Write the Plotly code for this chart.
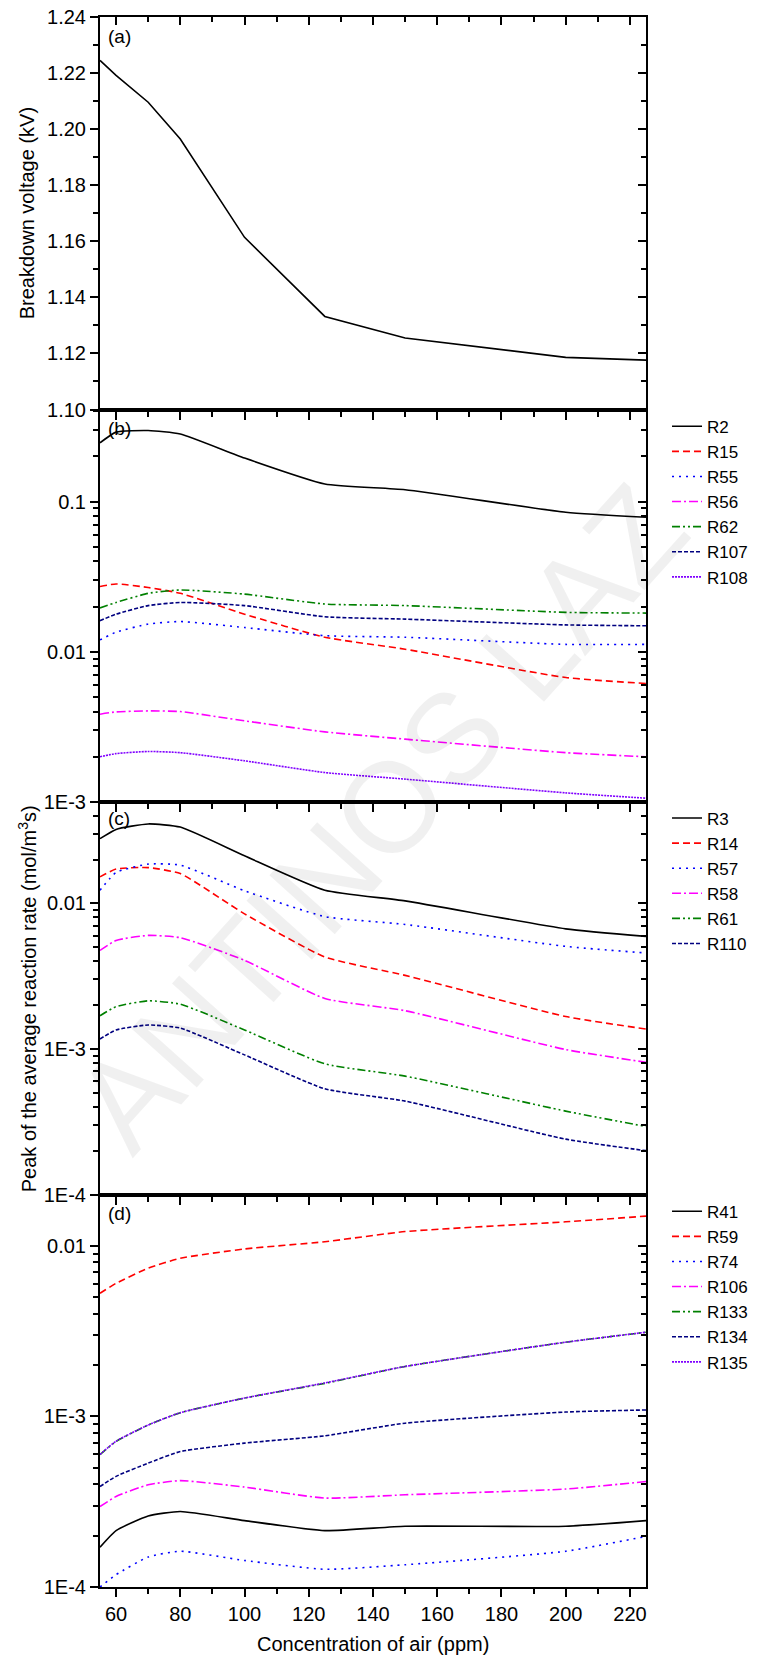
import plotly.graph_objects as go

# ---------------- data ----------------
x_air = [55, 60, 70, 80, 100, 125, 150, 200, 225]

# (a) breakdown voltage (kV)
breakdown_kv = [1.2245, 1.2192, 1.2096, 1.1965, 1.1614, 1.1332, 1.1255, 1.1186, 1.1176]

# (b)
R2 = [0.246, 0.290, 0.297, 0.282, 0.195, 0.131, 0.120, 0.0849, 0.0786]
R15 = [0.0272, 0.0283, 0.0268, 0.0245, 0.0178, 0.0125, 0.0104, 0.00674, 0.00615]
R55 = [0.0120, 0.0135, 0.0153, 0.0159, 0.0145, 0.0128, 0.0125, 0.0112, 0.0112]
R56 = [0.00384, 0.00398, 0.00404, 0.00400, 0.00347, 0.00293, 0.00262, 0.00213, 0.00200]
R62 = [0.0196, 0.0213, 0.0245, 0.0258, 0.0242, 0.0208, 0.0203, 0.0183, 0.0181]
R107 = [0.0161, 0.0178, 0.0203, 0.0213, 0.0203, 0.0171, 0.0165, 0.0151, 0.0149]
R108 = [0.00200, 0.00210, 0.00217, 0.00213, 0.00188, 0.00157, 0.00142, 0.00115, 0.00106]

# (c)
R3 = [0.0278, 0.0322, 0.0351, 0.0334, 0.0212, 0.0123, 0.0104, 0.00668, 0.00593]
R14 = [0.0152, 0.0172, 0.0176, 0.0160, 0.00847, 0.00428, 0.00320, 0.00167, 0.00137]
R57 = [0.0123, 0.0163, 0.0186, 0.0183, 0.0122, 0.00811, 0.00716, 0.00506, 0.00456]
R58 = [0.00475, 0.00556, 0.00602, 0.00581, 0.00406, 0.00222, 0.00183, 0.00099, 0.00081]
R61 = [0.00169, 0.00195, 0.00214, 0.00203, 0.00135, 0.00079, 0.00065, 0.000374, 0.000293]
R110 = [0.00117, 0.00135, 0.00146, 0.00139, 0.00091, 0.000532, 0.000438, 0.00024, 0.00020]

# (d)
R41 = [0.000171, 0.000214, 0.000261, 0.000277, 0.000245, 0.000214, 0.000227, 0.000227, 0.000245]
R59 = [0.00526, 0.00602, 0.00738, 0.00844, 0.00957, 0.01055, 0.0121, 0.0138, 0.0149]
R74 = [0.000100, 0.000118, 0.000150, 0.000162, 0.000143, 0.000127, 0.000135, 0.000162, 0.000198]
R106 = [0.000296, 0.000339, 0.000397, 0.000420, 0.000385, 0.000332, 0.000347, 0.000375, 0.000415]
R133 = [0.000596, 0.000713, 0.000890, 0.00105, 0.00128, 0.00156, 0.00196, 0.00272, 0.00311]
R134 = [0.000388, 0.000445, 0.000532, 0.000622, 0.000697, 0.000769, 0.000912, 0.00106, 0.00109]
R135 = [0.000598, 0.000715, 0.000890, 0.00105, 0.00128, 0.00157, 0.00196, 0.00272, 0.00311]

panel_b = [("R2", R2), ("R15", R15), ("R55", R55), ("R56", R56), ("R62", R62), ("R107", R107), ("R108", R108)]
panel_c = [("R3", R3), ("R14", R14), ("R57", R57), ("R58", R58), ("R61", R61), ("R110", R110)]
panel_d = [("R41", R41), ("R59", R59), ("R74", R74), ("R106", R106), ("R133", R133), ("R134", R134), ("R135", R135)]

x_ticks = [60, 80, 100, 120, 140, 160, 180, 200, 220]
kv_ticks = [1.10, 1.12, 1.14, 1.16, 1.18, 1.20, 1.22, 1.24]
b_tickvals = [0.001, 0.01, 0.1]
b_ticktext = ["1E-3", "0.01", "0.1"]
cd_tickvals = [0.0001, 0.001, 0.01]
cd_ticktext = ["1E-4", "1E-3", "0.01"]

# ---------------- styles ----------------
FONT = "Liberation Sans, Arial, sans-serif"
styles = [
    dict(color="#000000", dash="solid"),
    dict(color="#ff0000", dash="7px,4px"),
    dict(color="#0000ff", dash="2px,5px"),
    dict(color="#ff00ff", dash="9px,3px,2px,3px"),
    dict(color="#008000", dash="8px,3px,2px,3px,2px,3px"),
    dict(color="#000080", dash="4px,2px"),
    dict(color="#8000ff", dash="2px,1px"),
]
LW = 1.6

fig = go.Figure()

# panel (a)
fig.add_trace(go.Scatter(x=x_air, y=breakdown_kv, mode="lines",
                         line=dict(color="black", width=LW), showlegend=False,
                         xaxis="x", yaxis="y"))

for series, xa, ya, leg in [(panel_b, "x2", "y2", "legend"),
                            (panel_c, "x3", "y3", "legend2"),
                            (panel_d, "x4", "y4", "legend3")]:
    for i, (name, vals) in enumerate(series):
        st = styles[i]
        fig.add_trace(go.Scatter(x=x_air, y=vals, mode="lines", name=name,
                                 line=dict(color=st["color"], dash=st["dash"], width=LW,
                                           shape="spline", smoothing=0.5),
                                 xaxis=xa, yaxis=ya, legend=leg))

# dummy traces so the mirror (inside-tick) axes get drawn
for i in range(1, 5):
    xs = "" if i == 1 else str(i)
    fig.add_trace(go.Scatter(x=[None], y=[None], xaxis="x%d" % (i + 4), yaxis="y" + xs,
                             showlegend=False, hoverinfo="skip"))
    fig.add_trace(go.Scatter(x=[None], y=[None], xaxis="x" + xs, yaxis="y%d" % (i + 4),
                             showlegend=False, hoverinfo="skip"))

domains = [[0.75, 1.0], [0.5, 0.75], [0.25, 0.5], [0.0, 0.25]]
y_ranges = [[1.10, 1.24], [-3, -0.387], [-4, -1.304], [-4, -1.70]]
log_minor = [k * 10 ** e for e in range(-4, 0) for k in range(2, 10)]

tickfont = dict(family=FONT, size=20, color="black")
layout = {}
for i in range(1, 5):
    xs = "" if i == 1 else str(i)
    common_x = dict(range=[55, 225], tickmode="array", tickvals=x_ticks,
                    ticklen=8, tickwidth=1.5, tickcolor="black",
                    minor=dict(tickmode="array", tickvals=[70, 90, 110, 130, 150, 170, 190, 210],
                               ticklen=5, tickwidth=1.5, tickcolor="black"),
                    showgrid=False, zeroline=False, tickfont=tickfont)
    bx = dict(common_x, domain=[0, 1], anchor="y" + xs, side="bottom", ticks="outside",
              showline=True, linecolor="black", linewidth=2, mirror=True,
              showticklabels=(i == 4))
    bx["minor"] = dict(bx["minor"], ticks="outside")
    tx = dict(common_x, overlaying="x" + xs, anchor="y" + xs, side="top", ticks="inside",
              showline=False, showticklabels=False)
    tx["minor"] = dict(tx["minor"], ticks="inside")
    layout["xaxis" + xs] = bx
    layout["xaxis%d" % (i + 4)] = tx

    if i == 1:
        common_y = dict(type="linear", range=y_ranges[0], tickmode="array", tickvals=kv_ticks,
                        ticktext=["%.2f" % v for v in kv_ticks],
                        minor=dict(tickmode="array", tickvals=[1.11, 1.13, 1.15, 1.17, 1.19, 1.21, 1.23],
                                   ticklen=5, tickwidth=1.5, tickcolor="black"))
    else:
        tv, tt = (b_tickvals, b_ticktext) if i == 2 else (cd_tickvals, cd_ticktext)
        common_y = dict(type="log", range=y_ranges[i - 1], tickmode="array", tickvals=tv, ticktext=tt,
                        minor=dict(tickmode="array", tickvals=log_minor,
                                   ticklen=5, tickwidth=1.5, tickcolor="black"))
    common_y.update(domain=domains[i - 1], ticklen=8, tickwidth=1.5, tickcolor="black",
                    showgrid=False, zeroline=False, tickfont=tickfont)
    ly = dict(common_y, anchor="x" + xs, side="left", ticks="outside",
              showline=True, linecolor="black", linewidth=2, mirror=True)
    ly["minor"] = dict(ly["minor"], ticks="outside")
    ry = dict(common_y, overlaying="y" + xs, anchor="x" + xs, side="right", ticks="inside",
              showline=False, showticklabels=False)
    ry["minor"] = dict(ry["minor"], ticks="inside")
    layout["yaxis" + xs] = ly
    layout["yaxis%d" % (i + 4)] = ry

legfont = dict(family=FONT, size=17, color="black")
LEGX = 1.0385
leg_common = dict(x=LEGX, xanchor="left", yanchor="top", bgcolor="rgba(0,0,0,0)",
                  font=legfont, itemwidth=30, tracegroupgap=0)
layout["legend"] = dict(leg_common, y=0.7505)
layout["legend2"] = dict(leg_common, y=0.5010)
layout["legend3"] = dict(leg_common, y=0.2505)

fig.update_layout(**layout)

annots = [
    dict(text="(a)", x=0.011, y=0.9873),
    dict(text="(b)", x=0.011, y=0.7382),
    dict(text="(c)", x=0.011, y=0.4898),
    dict(text="(d)", x=0.011, y=0.2382),
]
for a in annots:
    fig.add_annotation(text=a["text"], x=a["x"], y=a["y"], xref="paper", yref="paper",
                       xanchor="left", yanchor="middle", showarrow=False,
                       font=dict(family=FONT, size=19, color="black"))

fig.add_annotation(text="Breakdown voltage (kV)", x=-0.1337, y=0.875, xref="paper", yref="paper",
                   textangle=-90, showarrow=False, xanchor="center", yanchor="middle",
                   font=dict(family=FONT, size=20, color="black"))
fig.add_annotation(text="Peak of the average reaction rate (mol/m<sup>3</sup>s)", x=-0.1337, y=0.375,
                   xref="paper", yref="paper", textangle=-90, showarrow=False,
                   xanchor="center", yanchor="middle",
                   font=dict(family=FONT, size=20, color="black"))
fig.add_annotation(text="Concentration of air (ppm)", x=0.5, y=-0.0363, xref="paper", yref="paper",
                   showarrow=False, xanchor="center", yanchor="middle",
                   font=dict(family=FONT, size=20, color="black"))
# faint diagonal watermark seen in the reference
fig.add_annotation(text="ANTINOS LAZ", x=0.513, y=0.49, xref="paper", yref="paper",
                   textangle=-48, showarrow=False, xanchor="center", yanchor="middle",
                   font=dict(family=FONT, size=128, color="rgba(0,0,0,0.06)"))

fig.update_layout(width=760, height=1658, margin=dict(l=100, r=114, t=17, b=71, autoexpand=False),
                  paper_bgcolor="white", plot_bgcolor="white", showlegend=True)

fig.write_html("out.html")
